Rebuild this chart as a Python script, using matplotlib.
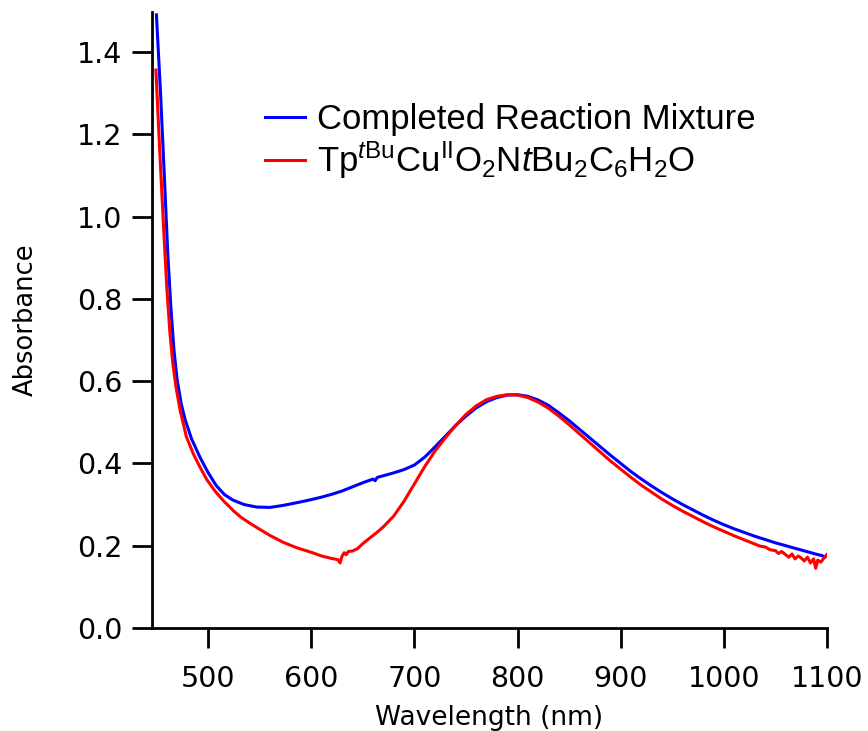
import matplotlib
matplotlib.use("Agg")
import matplotlib.pyplot as plt
import numpy as np

plt.rcParams["font.family"] = "DejaVu Sans"
plt.rcParams["mathtext.fontset"] = "custom"
plt.rcParams["mathtext.rm"] = "Liberation Sans"
plt.rcParams["mathtext.it"] = "Liberation Sans:italic"

# completed reaction mixture (blue)
wl_mix = [450, 454, 458, 461, 464, 467, 470, 474, 478, 484, 492, 500, 508, 516, 524,
          535, 547, 560, 573, 589, 600, 610, 620, 630, 640, 650, 660, 662, 664, 670,
          680, 690, 700, 710, 720, 730, 740, 750, 760, 770, 780, 790, 800, 810, 820,
          830, 840, 850, 860, 870, 880, 890, 900, 910, 920, 930, 940, 950, 960, 970,
          980, 990, 1000, 1010, 1020, 1030, 1040, 1050, 1060, 1070, 1080, 1090, 1095,
          1098, 1100]
abs_mix = [1.49, 1.30, 1.08, 0.91, 0.78, 0.675, 0.605, 0.545, 0.505, 0.46, 0.416,
           0.378, 0.346, 0.324, 0.311, 0.3, 0.294, 0.293, 0.298, 0.306, 0.312, 0.318,
           0.325, 0.333, 0.343, 0.353, 0.362, 0.358, 0.366, 0.37, 0.377, 0.385, 0.396,
           0.415, 0.44, 0.466, 0.492, 0.515, 0.535, 0.55, 0.56, 0.566, 0.567, 0.563,
           0.554, 0.541, 0.523, 0.504, 0.483, 0.462, 0.441, 0.42, 0.40, 0.38, 0.362,
           0.345, 0.329, 0.314, 0.30, 0.287, 0.274, 0.262, 0.251, 0.241, 0.232, 0.223,
           0.215, 0.207, 0.20, 0.193, 0.186, 0.179, 0.176, 0.172, 0.178]

# Tp(tBu)Cu(II) complex (red)
wl_cu = [449.5, 453, 457, 460, 463, 466, 469, 473, 479, 486, 492, 499, 507, 515, 525,
         532, 541, 550, 560, 573, 586, 600, 610, 620, 626, 628, 630, 632, 634, 636,
         640, 645, 650, 655, 660, 665, 670, 680, 690, 700, 710, 720, 730, 740, 750,
         760, 770, 780, 790, 800, 810, 820, 830, 840, 850, 860, 870, 880, 890, 900,
         910, 920, 930, 940, 950, 960, 970, 980, 990, 1000, 1010, 1020, 1030, 1035,
         1040, 1045, 1050, 1053, 1056, 1060, 1063, 1066, 1069, 1072, 1075, 1078, 1081,
         1084, 1087, 1089, 1091, 1094, 1097, 1100]
abs_cu = [1.356, 1.17, 0.97, 0.83, 0.72, 0.64, 0.585, 0.529, 0.465, 0.422, 0.392,
          0.36, 0.332, 0.309, 0.284, 0.269, 0.254, 0.24, 0.225, 0.208, 0.195, 0.184,
          0.175, 0.169, 0.166, 0.158, 0.175, 0.183, 0.178, 0.186, 0.187, 0.193, 0.205,
          0.215, 0.225, 0.235, 0.246, 0.272, 0.308, 0.35, 0.392, 0.43, 0.462, 0.492,
          0.519, 0.54, 0.555, 0.563, 0.567, 0.566, 0.56, 0.549, 0.534, 0.515, 0.494,
          0.472, 0.45, 0.428, 0.406, 0.386, 0.366, 0.347, 0.33, 0.313, 0.298, 0.284,
          0.271, 0.258, 0.246, 0.235, 0.224, 0.214, 0.204, 0.199, 0.197, 0.19, 0.188,
          0.181, 0.186, 0.178, 0.172, 0.18, 0.168, 0.175, 0.17, 0.163, 0.172, 0.158,
          0.168, 0.145, 0.165, 0.16, 0.17, 0.178]

label_mix = 'Completed Reaction Mixture'
label_cu = r'Tp$^{\mathit{t}\mathrm{Bu}}$Cu$^{\mathrm{II}}$O$_2$N$\mathit{t}$Bu$_2$C$_6$H$_2$O'

fig = plt.figure(figsize=(8.68, 7.31), dpi=100)
ax = fig.add_axes([0.1751, 0.1409, 0.9528 - 0.1751, 0.9836 - 0.1409])

ax.plot(wl_mix, abs_mix, color='#0000ff', linewidth=2.2, label=label_mix)
ax.plot(wl_cu, abs_cu, color='#ff0000', linewidth=2.2, label=label_cu)

ax.set_xlim(445.7, 1100)
ax.set_ylim(0, 1.497)
ax.set_xticks(np.arange(500, 1101, 100))
ax.set_yticks(np.arange(0, 1.41, 0.2))
ax.yaxis.set_major_formatter(matplotlib.ticker.FormatStrFormatter('%.1f'))

for s in ['top', 'right']:
    ax.spines[s].set_visible(False)
for s in ['left', 'bottom']:
    ax.spines[s].set_linewidth(2)

ax.tick_params(axis='both', direction='out', length=14.5, width=2, labelsize=20.5)
ax.tick_params(axis='x', pad=12)
ax.tick_params(axis='y', pad=7)

ax.set_xlabel('Wavelength (nm)', fontsize=19, labelpad=9)
ax.set_ylabel('Absorbance', fontsize=18.5, labelpad=27)

ax.legend(loc='upper left', bbox_to_anchor=(0.167, 0.852), frameon=False,
          prop={'family': 'Liberation Sans', 'size': 25},
          handlelength=1.15, handletextpad=0.37, labelspacing=0.1,
          borderpad=0, borderaxespad=0)

fig.savefig('out.png', dpi=100)
